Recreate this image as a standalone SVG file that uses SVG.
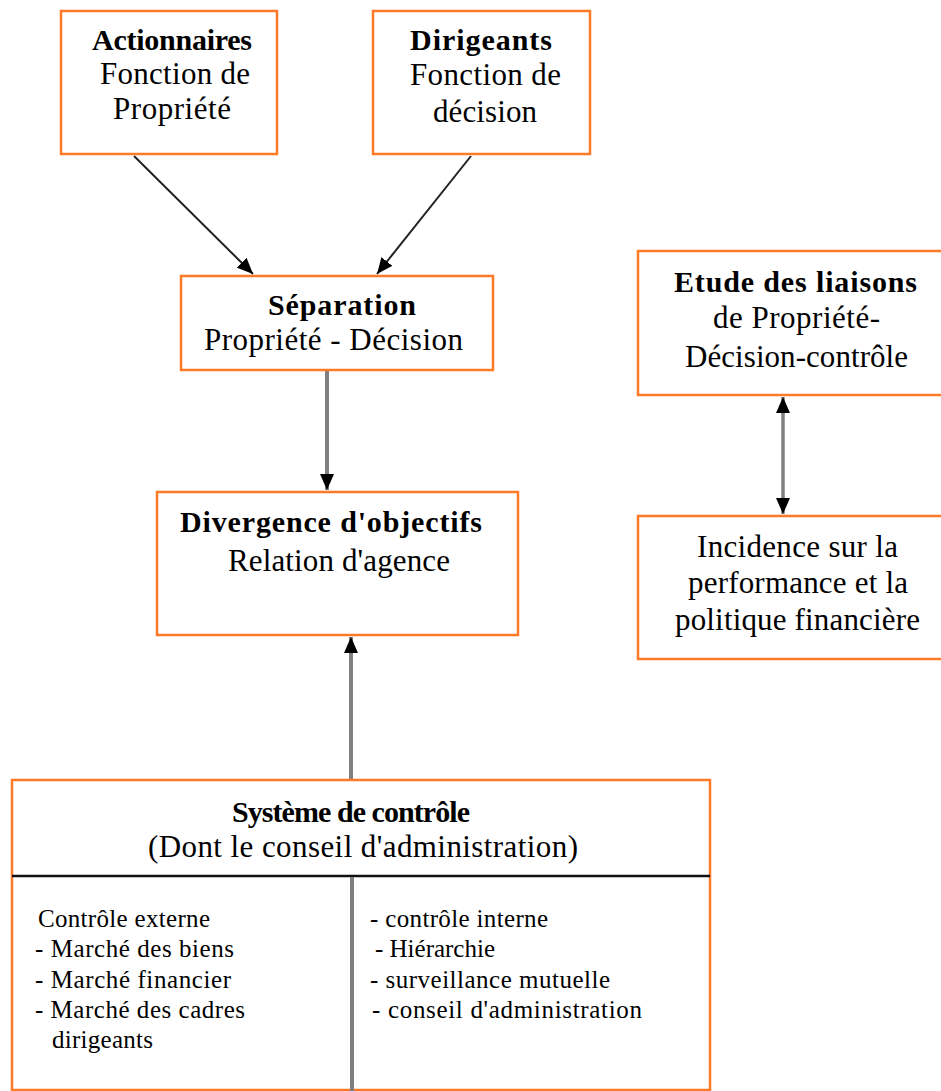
<svg xmlns="http://www.w3.org/2000/svg" width="941" height="1091" viewBox="0 0 941 1091">
  <style>
    .box { fill: #ffffff; stroke: #ff7a26; stroke-width: 2.5; }
    .t { font-family: "Liberation Serif", "Times New Roman", serif; fill: #000; }
    .b { font-weight: bold; font-size: 30px; }
    .r { font-size: 31px; }
    .s { font-size: 25px; }
    .link { fill: none; stroke: #222; stroke-width: 2; }
    .thick { fill: none; stroke: #808080; stroke-width: 4; }
    .mid { fill: none; stroke: #808080; stroke-width: 3.5; }
  </style>
  <defs>
    <marker id="arrow" viewBox="0 0 16 14" refX="16" refY="7" markerWidth="16" markerHeight="14" markerUnits="userSpaceOnUse" orient="auto-start-reverse">
      <path d="M0,0 L16,7 L0,14 z" fill="#000"/>
    </marker>
  </defs>

  <rect width="941" height="1091" fill="#ffffff"/>

  <!-- connectors -->
  <g id="connectors">
    <line class="link" x1="134" y1="156" x2="253" y2="274" marker-end="url(#arrow)"/>
    <line class="link" x1="471" y1="156" x2="377" y2="274" marker-end="url(#arrow)"/>
    <line class="thick" x1="327" y1="371" x2="327" y2="490" marker-end="url(#arrow)"/>
    <line class="thick" x1="351" y1="779" x2="351" y2="637" marker-end="url(#arrow)"/>
    <line class="mid" x1="783" y1="397" x2="783" y2="514" marker-start="url(#arrow)" marker-end="url(#arrow)"/>
  </g>

  <!-- owners -->
  <g id="actionnaires">
    <rect class="box" x="61" y="11" width="216" height="143"/>
    <text class="t b" x="92" y="50" textLength="160">Actionnaires</text>
    <text class="t r" x="100" y="84" textLength="150">Fonction de</text>
    <text class="t r" x="113" y="119" textLength="118">Propriété</text>
  </g>

  <!-- managers -->
  <g id="dirigeants">
    <rect class="box" x="373" y="11" width="217" height="143"/>
    <text class="t b" x="410" y="50" textLength="142">Dirigeants</text>
    <text class="t r" x="410" y="85" textLength="151">Fonction de</text>
    <text class="t r" x="433" y="122" textLength="104">décision</text>
  </g>

  <g id="separation">
    <rect class="box" x="181" y="276" width="312" height="94"/>
    <text class="t b" x="268" y="315" textLength="148">Séparation</text>
    <text class="t r" x="204" y="350" textLength="259">Propriété - Décision</text>
  </g>

  <g id="divergence">
    <rect class="box" x="157" y="492" width="361" height="143"/>
    <text class="t b" x="180" y="532" textLength="302">Divergence d'objectifs</text>
    <text class="t r" x="228" y="571" textLength="222">Relation d'agence</text>
  </g>

  <g id="etude">
    <rect class="box" x="638" y="251" width="320" height="144"/>
    <text class="t b" x="674" y="292" textLength="243">Etude des liaisons</text>
    <text class="t r" x="713" y="328" textLength="167">de Propriété-</text>
    <text class="t r" x="685" y="367" textLength="223">Décision-contrôle</text>
  </g>

  <g id="incidence">
    <rect class="box" x="638" y="516" width="320" height="143"/>
    <text class="t r" x="697" y="557" textLength="201">Incidence sur la</text>
    <text class="t r" x="688" y="593" textLength="220">performance et la</text>
    <text class="t r" x="675" y="630" textLength="245">politique financière</text>
  </g>

  <g id="systeme">
    <rect class="box" x="12" y="780" width="698" height="310"/>
    <line x1="12" y1="876" x2="710" y2="876" stroke="#111" stroke-width="2.5"/>
    <line class="thick" x1="352" y1="877" x2="352" y2="1091"/>
    <text class="t b" x="232" y="822" textLength="238">Système de contrôle</text>
    <text class="t r" x="148" y="857" textLength="430">(Dont le conseil d'administration)</text>

    <text class="t s" x="38" y="927" textLength="172">Contrôle externe</text>
    <text class="t s" x="35" y="957" textLength="199">- Marché des biens</text>
    <text class="t s" x="35" y="988" textLength="196">- Marché financier</text>
    <text class="t s" x="35" y="1018" textLength="210">- Marché des cadres</text>
    <text class="t s" x="52" y="1048" textLength="101">dirigeants</text>

    <text class="t s" x="370" y="927" textLength="178">- contrôle interne</text>
    <text class="t s" x="375" y="957" textLength="120">- Hiérarchie</text>
    <text class="t s" x="370" y="988" textLength="240">- surveillance mutuelle</text>
    <text class="t s" x="372" y="1018" textLength="270">- conseil d'administration</text>
  </g>
</svg>
